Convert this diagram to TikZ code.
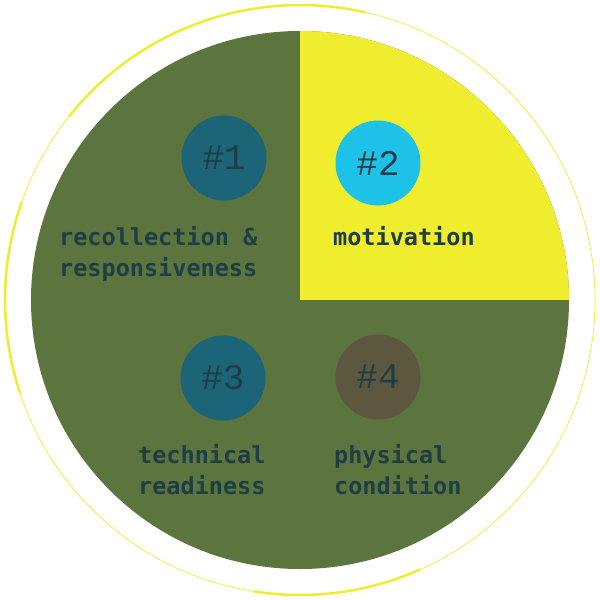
\documentclass[tikz,border=0pt]{standalone}
\usepackage{fontspec}
\newfontfamily\lblfont{DejaVu Sans Mono}
\newfontfamily\numfont{Liberation Mono}
\definecolor{dgreen}{HTML}{5C743D}
\definecolor{ylw}{HTML}{F0EC2E}
\definecolor{teal1}{HTML}{1C6478}
\definecolor{cyan2}{HTML}{1DC2E8}
\definecolor{brown4}{HTML}{5C573E}
\definecolor{ink}{HTML}{1F3D45}
\begin{document}
\begin{tikzpicture}[x=1pt,y=-1pt,
  badge/.style={circle,minimum size=85pt,inner sep=0pt},
  num/.style={font=\numfont\fontsize{36}{36}\selectfont,text=ink},
  lbl/.style={font=\lblfont\bfseries\fontsize{23.5}{31}\selectfont,text=ink,anchor=base west,inner sep=0pt},
  ring/.style={ylw,line width=2.5pt}]
\useasboundingbox (0,0) rectangle (600,600);
\fill[dgreen] (300,300) circle (269);
\begin{scope}
\clip (300,300) circle (269);
\fill[ylw] (300,0) rectangle (600,300);
\end{scope}
\draw[ylw,line width=0.7pt] (300,300) circle (295);
\coordinate (c) at (300,300);
\draw[ring] (c) ++(-141.5:295) arc[start angle=-141.5,end angle=-77.2,radius=295];
\draw[ring] (c) ++(-160.6:295) arc[start angle=-160.6,end angle=-198.4,radius=295];
\draw[ring] (c) ++(-261:295) arc[start angle=-261,end angle=-294,radius=295];
\node[badge,fill=teal1] (b1) at (224,158) {};
\node[badge,fill=cyan2] (b2) at (378,163) {};
\node[badge,fill=teal1] (b3) at (223,378) {};
\node[badge,fill=brown4] (b4) at (378,377) {};
\node[num] (n1) at (b1) {\#1};
\node[num] (n2) at (b2) {\#2};
\node[num] (n3) at (b3) {\#3};
\node[num] (n4) at (b4) {\#4};
\node[lbl] (l1a) at (59,245) {recollection \&};
\node[lbl] (l1b) at (59,276) {responsiveness};
\node[lbl] (l2) at (333,245) {motivation};
\node[lbl] (l3a) at (138,463) {technical};
\node[lbl] (l3b) at (138,494) {readiness};
\node[lbl] (l4a) at (334,463) {physical};
\node[lbl] (l4b) at (334,494) {condition};
\end{tikzpicture}
\end{document}
